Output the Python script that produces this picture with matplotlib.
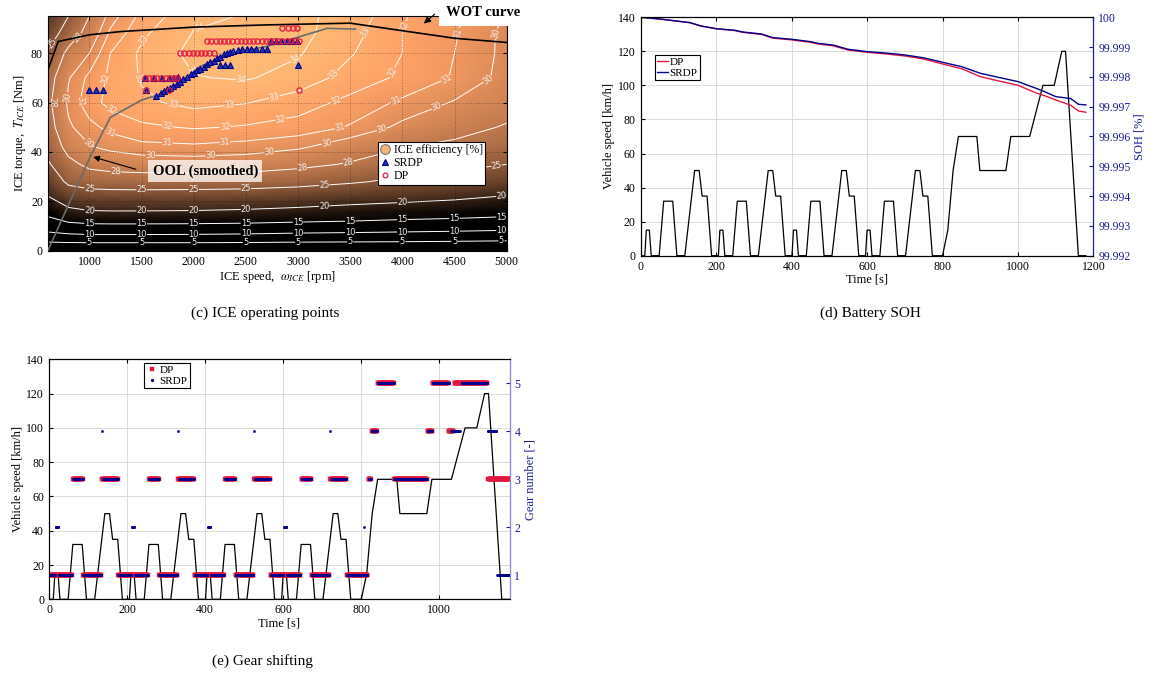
import numpy as np
import matplotlib
matplotlib.use("Agg")
import matplotlib.pyplot as plt
from matplotlib.lines import Line2D

plt.rcParams['font.family'] = ['Liberation Serif', 'DejaVu Serif']
plt.rcParams['mathtext.fontset'] = 'stix'
plt.rcParams['xtick.direction'] = 'in'
plt.rcParams['ytick.direction'] = 'in'
plt.rcParams['xtick.major.size'] = 3
plt.rcParams['ytick.major.size'] = 3
plt.rcParams['axes.linewidth'] = 0.8

# ---------------- ICE efficiency map [%] ----------------
map_speed = [600, 800, 1000, 1200, 1500, 2000, 2500, 3000, 3500, 4000, 4500, 5000]
map_torque = [0, 3, 6, 11, 16, 22, 28, 35, 42, 50, 60, 70, 80, 88, 95]
map_eff = [
    [0.0, 0.0, 0.0, 0.0, 0.0, 0.0, 0.0, 0.0, 0.0, 0.0, 0.0, 0.0],
    [4.2, 4.4, 4.5, 4.5, 4.5, 4.5, 4.4, 4.2, 4.1, 4.0, 3.8, 3.6],
    [8.5, 9.0, 9.3, 9.3, 9.3, 9.2, 9.0, 8.6, 8.4, 8.2, 7.9, 7.5],
    [13.0, 14.5, 15.0, 15.1, 15.1, 15.0, 14.8, 14.4, 14.1, 13.6, 13.3, 12.9],
    [16.5, 19.0, 19.8, 19.9, 19.9, 19.8, 19.5, 19.0, 18.4, 17.8, 17.3, 16.6],
    [19.9, 22.8, 23.5, 23.6, 23.6, 23.5, 23.3, 22.8, 22.0, 21.5, 20.8, 19.8],
    [22.5, 25.7, 26.4, 26.6, 26.7, 26.7, 26.6, 26.2, 25.4, 24.3, 23.7, 22.8],
    [24.6, 27.3, 28.6, 29.0, 29.2, 29.3, 29.2, 28.6, 27.8, 26.7, 25.8, 25.0],
    [26.0, 28.9, 29.9, 30.3, 30.7, 30.8, 30.6, 30.2, 29.2, 28.1, 27.5, 26.8],
    [27.0, 29.8, 30.7, 31.3, 31.8, 32.1, 31.9, 31.6, 30.9, 29.7, 28.8, 27.8],
    [27.5, 30.3, 31.6, 32.3, 32.8, 33.3, 33.05, 32.5, 31.7, 30.8, 29.9, 29.0],
    [27.0, 29.9, 31.3, 32.2, 33.1, 33.95, 34.1, 33.6, 32.6, 31.8, 30.9, 29.6],
    [25.3, 28.7, 30.0, 32.0, 33.2, 34.3, 34.5, 34.1, 33.1, 32.0, 31.0, 29.7],
    [23.3, 26.5, 29.0, 31.2, 32.8, 34.05, 34.3, 34.3, 33.4, 32.0, 31.1, 29.7],
    [21.5, 25.0, 28.0, 30.5, 32.3, 33.8, 34.05, 34.2, 33.7, 32.1, 31.2, 29.9],
]
eff_levels = [5, 10, 15, 20, 25, 28, 30, 31, 32, 33, 34]

wot_speed = [600, 700, 1000, 1300, 2000, 2700, 3500, 4500, 5000]
wot_torque = [73, 84.7, 87.4, 88.7, 90.5, 91.4, 92.1, 86.0, 84.3]

ool_speed = [600, 1000, 1200, 1500, 1650, 1870, 2060, 2380, 2700, 3020, 3280, 3550]
ool_torque = [0, 37.5, 54, 61, 63, 68, 74.6, 80, 82.7, 86.7, 90, 89.7]

srdp_speed = [1000, 1065, 1130, 1545, 1640,
              1530, 1620, 1700, 1760, 1800, 1850,
              1690, 1710, 1740, 1770, 1800, 1840, 1870, 1900, 1935, 1970, 2000,
              2030, 2063, 2100, 2130, 2160, 2190, 2220, 2250, 2290, 2320, 2350,
              2380, 2420, 2460, 2510, 2550, 2600, 2650, 2700,
              2255, 2300, 2345,
              2740, 2790, 2840, 2890, 2940, 2990,
              3000]
srdp_torque = [65, 65, 65, 65, 62.5,
               70, 70, 70, 70, 70, 70.5,
               64, 64.5, 65.5, 66, 66.5, 67.5, 68.5, 69.5, 70.5, 71.5, 72,
               73, 73.5, 74.5, 75.5, 76.5, 77, 78, 78.5, 79.5, 80, 80.5,
               81, 81.3, 81.5, 81.5, 81.5, 81.5, 81.5, 81.5,
               75, 75, 75,
               85, 85, 85, 85, 85, 85,
               75]

dp_speed = [1530, 1570, 1610, 1650, 1690, 1730, 1770, 1810, 1840,
            1545, 1760,
            1870, 1910, 1950, 1990, 2030, 2070, 2110, 2150, 2190,
            2130, 2170, 2210, 2250, 2290, 2330, 2370, 2410, 2450, 2490, 2530,
            2570, 2610, 2650, 2690, 2730, 2770, 2810, 2850, 2890, 2930, 2970, 3010,
            2850, 2900, 2950, 2990,
            3010]
dp_torque = [70, 70, 70, 70, 70, 70, 70, 70, 70,
             65, 65,
             80, 80, 80, 80, 80, 80, 80, 80, 80,
             85, 85, 85, 85, 85, 85, 85, 85, 85, 85, 85,
             85, 85, 85, 85, 85, 85, 85, 85, 85, 85, 85, 85,
             90, 90, 90, 90,
             65]

# ---------------- Drive cycle (vehicle speed, km/h) ----------------
cycle_time = [0, 11, 15, 23, 28, 49, 61, 85, 96, 117, 143, 155, 163, 176, 188,
              206, 210, 218, 223, 244, 256, 280, 291, 312, 338, 350, 358, 371, 383,
              401, 405, 413, 418, 439, 451, 475, 486, 507, 533, 545, 553, 566, 578,
              596, 600, 608, 613, 634, 646, 670, 681, 702, 728, 740, 748, 761, 773,
              800, 814, 822, 828, 842, 891, 899, 968, 981, 1031, 1066, 1096, 1116,
              1126, 1160, 1180]
cycle_speed = [0, 0, 15, 15, 0, 0, 32, 32, 0, 0, 50, 50, 35, 35, 0,
               0, 15, 15, 0, 0, 32, 32, 0, 0, 50, 50, 35, 35, 0,
               0, 15, 15, 0, 0, 32, 32, 0, 0, 50, 50, 35, 35, 0,
               0, 15, 15, 0, 0, 32, 32, 0, 0, 50, 50, 35, 35, 0,
               0, 15, 35, 50, 70, 70, 50, 50, 70, 70, 100, 100, 120,
               120, 0, 0]

# ---------------- Battery state of health [%] ----------------
soh_time = [0, 50, 100, 130, 160, 200, 250, 270, 320, 350, 400, 450, 470, 510, 550,
            600, 650, 700, 750, 800, 850, 900, 950, 1000, 1050, 1070, 1100, 1140,
            1160, 1180]
soh_srdp = [100.0, 99.999943, 99.999866, 99.999821, 99.999709, 99.999619, 99.999563,
            99.999507, 99.999440, 99.999318, 99.999262, 99.999183, 99.999126,
            99.999069, 99.998926, 99.998848, 99.998800, 99.998736, 99.998640,
            99.998490, 99.998345, 99.998121, 99.997980, 99.997841, 99.997606,
            99.997506, 99.997338, 99.997271, 99.997081, 99.997058]
soh_dp = [100.0, 99.999943, 99.999866, 99.999821, 99.999705, 99.999612, 99.999553,
          99.999495, 99.999425, 99.999300, 99.999242, 99.999160, 99.999102,
          99.999044, 99.998900, 99.998826, 99.998770, 99.998702, 99.998600,
          99.998434, 99.998277, 99.998009, 99.997860, 99.997718, 99.997450,
          99.997371, 99.997226, 99.997047, 99.996857, 99.996812]

# ---------------- Gear selection (segments: start s, end s, gear) ----------------
dp_gear_start = [2, 62, 88, 136, 178, 257, 283, 331, 373, 452, 478, 526, 568, 647,
                 673, 721, 763, 819, 827, 843, 885, 970, 983, 1024, 1039, 1126]
dp_gear_end = [58, 86, 133, 176, 253, 281, 328, 371, 448, 476, 523, 566, 643, 671,
               718, 761, 816, 824, 840, 883, 968, 981, 1022, 1036, 1122, 1180]
dp_gear_num = [1, 3, 1, 3, 1, 3, 1, 3, 1, 3, 1, 3, 1, 3,
               1, 3, 1, 3, 4, 5, 3, 4, 5, 4, 5, 3]

srdp_gear_start = [2, 17, 25, 62, 88, 136, 138, 178, 212, 220,
                   257, 283, 331, 333, 373, 407, 415, 452, 478, 526,
                   528, 568, 602, 610, 647, 673, 721, 723, 763, 806,
                   808, 819, 827, 843, 885, 970, 983, 1031, 1057, 1125, 1149]
srdp_gear_end = [15, 23, 58, 86, 133, 136, 176, 210, 218, 253,
                 281, 328, 331, 371, 405, 413, 448, 476, 523, 526,
                 566, 600, 608, 643, 671, 718, 721, 761, 804, 806,
                 816, 824, 840, 883, 968, 981, 1026, 1052, 1122, 1145, 1180]
srdp_gear_num = [1, 2, 1, 3, 1, 4, 3, 1, 2, 1,
                 3, 1, 4, 3, 1, 2, 1, 3, 1, 4,
                 3, 1, 2, 1, 3, 1, 4, 3, 1, 2,
                 1, 3, 4, 5, 3, 4, 5, 4, 5, 4, 1]

RED = '#e3173f'
NAVY = '#00008b'
AXBLUE = '#1c1c96'


def expand_segments(starts, ends, gears):
    t, g = [], []
    for s, e, n in zip(starts, ends, gears):
        ts = np.arange(s, e + 1)
        t.append(ts)
        g.append(np.full(ts.shape, n))
    return np.concatenate(t), np.concatenate(g)


def snap_to_level(segs, x, y, sx, sy):
    """Closest point to (x, y) on a contour level's polylines (scaled space)."""
    best, best_d = (x, y), np.inf
    for seg in segs:
        if len(seg) < 2:
            continue
        a = seg[:-1]
        b = seg[1:]
        ax_, ay_ = a[:, 0] * sx, a[:, 1] * sy
        bx_, by_ = b[:, 0] * sx, b[:, 1] * sy
        px, py = x * sx, y * sy
        dx, dy = bx_ - ax_, by_ - ay_
        L2 = dx * dx + dy * dy
        L2[L2 == 0] = 1e-12
        u = np.clip(((px - ax_) * dx + (py - ay_) * dy) / L2, 0, 1)
        cx, cy = ax_ + u * dx, ay_ + u * dy
        d = (cx - px) ** 2 + (cy - py) ** 2
        i = np.argmin(d)
        if d[i] < best_d:
            best_d = d[i]
            best = (cx[i] / sx, cy[i] / sy)
    return best


fig = plt.figure(figsize=(11.56, 6.75), dpi=100)

# =============== (c) ICE operating points ===============
ax1 = fig.add_axes([0.0413, 0.6283, 0.397, 0.348])
S, TQ = np.meshgrid(map_speed, map_torque)
E = np.array(map_eff)
ax1.pcolormesh(S, TQ, E, shading='gouraud', cmap='copper', vmin=16.5, vmax=35.5,
               zorder=0, rasterized=True)
cs = ax1.contour(S, TQ, E, levels=eff_levels, colors='white', linewidths=0.7, zorder=1)

label_spots = {
    5: [(1000, 3.4), (1500, 3.4), (2000, 3.4), (2500, 3.4), (3000, 3.6),
        (3500, 3.7), (4000, 3.8), (4500, 4.0), (4950, 4.2)],
    10: [(1000, 6.6), (1500, 6.6), (2000, 6.6), (2500, 6.8), (3000, 7.1),
         (3500, 7.3), (4000, 7.5), (4500, 7.9), (4950, 8.3)],
    15: [(1000, 11), (1500, 11), (2000, 11), (2500, 11.2), (3000, 11.6),
         (3500, 12), (4000, 12.7), (4500, 13.3), (4950, 14)],
    20: [(1000, 16.3), (1500, 16.3), (2000, 16.4), (2500, 16.8), (3250, 18),
         (4000, 19.8), (4950, 22)],
    25: [(1000, 25), (1500, 25), (2000, 25), (2500, 25), (3250, 27.4),
         (4900, 35.5), (710, 82)],
    28: [(640, 60), (1250, 33), (3040, 32.5), (3470, 38), (4040, 45), (900, 86)],
    30: [(1584, 38.5), (2160, 38.3), (2730, 38.5), (3276, 44), (3790, 51.5),
         (4330, 58), (4840, 68), (4850, 88), (800, 62), (1025, 45)],
    31: [(1744, 43.5), (2300, 43.2), (3400, 50), (3915, 63), (4425, 69),
         (4540, 88), (840, 61), (1200, 48)],
    32: [(1200, 55.7), (1744, 49.6), (2300, 49.5), (2830, 53.7), (3370, 60),
         (3820, 74), (3950, 92), (1150, 70)],
    33: [(1520, 85), (1313, 67), (2350, 57), (2765, 63.8), (3324, 72), (3630, 88.7),
         (1790, 56)],
    34: [(2070, 88.5), (1950, 72), (2450, 69), (2960, 79)],
}
sx, sy = 459.0 / 4400.0, 235.0 / 95.0
manual_pts = []
for lev, spots in label_spots.items():
    segs = cs.allsegs[eff_levels.index(lev)]
    for (x, y) in spots:
        manual_pts.append(snap_to_level(segs, x, y, sx, sy))
ax1.clabel(cs, manual=manual_pts, fmt='%d', fontsize=6, colors='#f0f0f0',
           inline=True, inline_spacing=1)
for txt in cs.labelTexts:
    txt.set_fontfamily('DejaVu Sans')

ax1.plot(wot_speed, wot_torque, color='black', lw=1.2, zorder=3)
ax1.plot(ool_speed, ool_torque, color='#6b6b6b', lw=1.2, zorder=3)
ax1.plot(srdp_speed, srdp_torque, ls='none', marker='^', ms=4.5, mfc='#2233aa',
         mec=NAVY, mew=0.8, zorder=4)
ax1.plot(dp_speed, dp_torque, ls='none', marker='o', ms=3.8, mfc='none',
         mec=RED, mew=0.9, zorder=5)

ax1.set_xlim(600, 5000)
ax1.set_ylim(0, 95)
ax1.set_xticks(np.arange(1000, 5001, 500))
ax1.set_yticks(np.arange(0, 81, 20))
ax1.grid(True, color='black', alpha=0.35, ls=':', lw=0.7)
ax1.set_axisbelow(False)
ax1.tick_params(labelsize=8.5, top=True, right=True)
ax1.set_xlabel(r'ICE speed,  $\omega_{ICE}$ [rpm]', fontsize=9, labelpad=1)
ax1.set_ylabel(r'ICE torque,  $T_{ICE}$ [Nm]', fontsize=9, labelpad=2)

ax1.annotate('', xy=(4186, 91.2), xytext=(4330, 96.5),
             arrowprops=dict(arrowstyle='-|>', color='black', lw=0.8, mutation_scale=10),
             annotation_clip=False, zorder=7)
ax1.text(4770, 96.4, 'WOT curve', fontsize=10.5, fontweight='bold', ha='center',
         va='center', clip_on=False, zorder=6,
         bbox=dict(boxstyle='square,pad=0.45', fc='white', ec='none'))
ax1.annotate('', xy=(1010, 38.3), xytext=(1470, 32.7),
             arrowprops=dict(arrowstyle='-|>', color='black', lw=0.8, mutation_scale=9),
             zorder=7)
ax1.text(2110, 32.3, 'OOL (smoothed)', fontsize=10.5, fontweight='bold', ha='center',
         va='center', zorder=6,
         bbox=dict(boxstyle='square,pad=0.3', fc='white', alpha=0.75, ec='none'))

h_eff = Line2D([], [], ls='none', marker='o', ms=7, mfc='#f2b27e', mec='#777777', mew=0.8)
h_srdp = Line2D([], [], ls='none', marker='^', ms=4.5, mfc='#2233aa', mec=NAVY, mew=0.8)
h_dp = Line2D([], [], ls='none', marker='o', ms=3.5, mfc='none', mec=RED, mew=0.9)
leg1 = ax1.legend([h_eff, h_srdp, h_dp], ['ICE efficiency [%]', 'SRDP', 'DP'],
                  loc='upper left', bbox_to_anchor=(0.72, 0.465), fontsize=8.5,
                  fancybox=False, edgecolor='black', framealpha=1, borderpad=0.2,
                  labelspacing=0.1, handlelength=0.8, handletextpad=0.3,
                  borderaxespad=0)
leg1.get_frame().set_linewidth(0.8)
leg1.set_zorder(8)

# =============== (d) Battery SOH ===============
ax2 = fig.add_axes([0.5542, 0.6212, 0.3917, 0.3532])
ax2.plot(cycle_time, cycle_speed, color='black', lw=0.9)
ax2.set_xlim(0, 1200)
ax2.set_ylim(0, 140)
ax2.set_xticks(np.arange(0, 1201, 200))
ax2.set_yticks(np.arange(0, 141, 20))
ax2.grid(True, color='#d6d6d6', lw=0.6)
ax2.tick_params(labelsize=8.5, top=True)
ax2.set_xlabel('Time [s]', fontsize=9, labelpad=1)
ax2.set_ylabel('Vehicle speed [km/h]', fontsize=9, labelpad=2)

ax2r = ax2.twinx()
ax2r.plot(soh_time, soh_dp, color=RED, lw=1.0, label='DP')
ax2r.plot(soh_time, soh_srdp, color=NAVY, lw=1.0, label='SRDP')
ax2r.set_ylim(99.992, 100.0)
soh_ticks = np.round(np.arange(99.992, 100.0005, 0.001), 3)
ax2r.set_yticks(soh_ticks)
ax2r.set_yticklabels([f'{v:g}' for v in soh_ticks])
ax2r.tick_params(labelsize=8.5, colors=AXBLUE)
ax2r.spines['right'].set_color(AXBLUE)
ax2r.set_ylabel('SOH [%]', fontsize=9, color=AXBLUE, labelpad=2)
leg2 = ax2r.legend(loc='upper left', bbox_to_anchor=(0.0316, 0.842), fontsize=8,
                   fancybox=False, edgecolor='black', framealpha=1, borderpad=0.2,
                   labelspacing=0.1, handlelength=1.0, handletextpad=0.1,
                   borderaxespad=0)
leg2.get_frame().set_linewidth(0.8)

# =============== (e) Gear shifting ===============
ax3 = fig.add_axes([0.0424, 0.1121, 0.3984, 0.3556])
ax3.plot(cycle_time, cycle_speed, color='black', lw=0.9)
ax3.set_xlim(0, 1180)
ax3.set_ylim(0, 140)
ax3.set_xticks(np.arange(0, 1001, 200))
ax3.set_yticks(np.arange(0, 141, 20))
ax3.grid(True, color='#d6d6d6', lw=0.6)
ax3.tick_params(labelsize=8.5, top=True)
ax3.set_xlabel('Time [s]', fontsize=9, labelpad=1)
ax3.set_ylabel('Vehicle speed [km/h]', fontsize=9, labelpad=2)

ax3r = ax3.twinx()
t_dp, g_dp = expand_segments(dp_gear_start, dp_gear_end, dp_gear_num)
t_sr, g_sr = expand_segments(srdp_gear_start, srdp_gear_end, srdp_gear_num)
ax3r.plot(t_dp, g_dp, ls='none', marker='s', ms=2.5, mfc=RED, mec=RED, mew=0.3,
          label='DP')
ax3r.plot(t_sr, g_sr, ls='none', marker='o', ms=1.8, mfc=NAVY, mec=NAVY, mew=0.2,
          label='SRDP')
ax3r.set_ylim(0.5, 5.5)
ax3r.set_yticks([1, 2, 3, 4, 5])
ax3r.tick_params(labelsize=8.5, colors=AXBLUE)
ax3r.spines['right'].set_color('#8c8cd8')
ax3r.set_ylabel('Gear number [-]', fontsize=9, color=AXBLUE, labelpad=3)
leg3 = ax3r.legend(loc='upper left', bbox_to_anchor=(0.206, 0.986), fontsize=8,
                   fancybox=False, edgecolor='black', framealpha=1, borderpad=0.2,
                   labelspacing=0.1, handlelength=1.0, handletextpad=0.2,
                   borderaxespad=0, markerscale=1.2)
leg3.get_frame().set_linewidth(0.8)

# =============== captions ===============
fig.text(265 / 1156, 1 - 313 / 675, '(c) ICE operating points', ha='center',
         va='center', fontsize=11)
fig.text(870 / 1156, 1 - 313 / 675, '(d) Battery SOH', ha='center', va='center',
         fontsize=11)
fig.text(262 / 1156, 1 - 661 / 675, '(e) Gear shifting', ha='center', va='center',
         fontsize=11)

fig.savefig('out.png', dpi=100)
